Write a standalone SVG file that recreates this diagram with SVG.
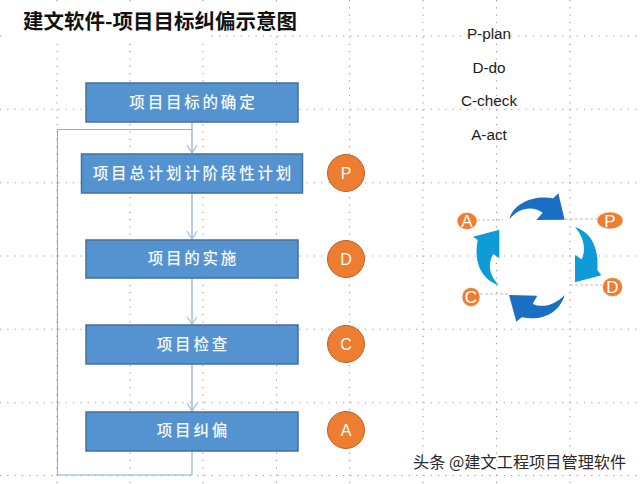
<svg xmlns="http://www.w3.org/2000/svg" width="640" height="484" viewBox="0 0 640 484">
<style>
.g{stroke:#9a9a9a;stroke-width:1.1;stroke-dasharray:1.2 6.1;fill:none}
.b{fill:#5593d0;stroke:#41719c;stroke-width:1.5}
.bt{font-family:"Noto Sans CJK SC","Noto Sans CJK JP",sans-serif;font-size:15.500px;font-weight:500;fill:#f4f8fc;text-anchor:middle;letter-spacing:2.800px}
.c{fill:#ed7d31;stroke:#b8642c;stroke-width:1}
.ct{font-family:"Liberation Sans",Arial,sans-serif;font-size:16px;fill:#fff;text-anchor:middle}
.l{font-family:"Liberation Sans",Arial,sans-serif;font-size:15.300px;fill:#1c1c1c;text-anchor:middle}
.w{stroke:#86aedb;stroke-width:1.1;fill:none}
.m{stroke:#a9c0dc;stroke-width:1.6;fill:none}
.h{stroke:#9dbfe0;stroke-width:1.2;fill:none}
.d{fill:#1a6fc4}.e{fill:#0f9bd7}
.oc{fill:#ed7d31;stroke:#fff;stroke-width:.5}
.ot{font-family:"Liberation Sans",Arial,sans-serif;font-size:17px;fill:#fff;text-anchor:middle}
.da{stroke:#bdbdbd;stroke-width:1;stroke-dasharray:3 2;fill:none}
</style>
<rect width="640" height="484" fill="#fff"/>
<g id="grid">
<path class="g" d="M0 36H640M0 109.300H640M0 182.700H640M0 256H640M0 329.300H640M0 402.700H640M0 475.500H640"/>
<path class="g" d="M57 0V484M130 0V484M203 0V484M276.500 0V484M349.500 0V484M423 0V484M496.500 0V484M570 0V484"/>
<rect x="6" y="5" width="201" height="38" fill="#fff"/>
<rect x="207" y="5" width="92" height="27" fill="#fff"/>
</g>
<text id="title" x="23" y="29" font-family="'Noto Sans CJK SC','Noto Sans CJK JP',sans-serif" font-size="20.500px" font-weight="700" fill="#111">建文软件-项目目标纠偏示意图</text>
<g id="connectors">
<path class="m" d="M192 122V154M192 193V240M192 278V325M192 364V412"/>
<path class="w" d="M192 451V475H57.500V129.500H192"/>
<path class="h" d="M187 145L192 153L197 145M187 231L192 239L197 231M187 317L192 324L197 317M187 403L192 411L197 403"/>
</g>
<g id="n1"><rect class="b" x="86" y="83" width="212" height="39"/><text class="bt" x="193.400" y="108">项目目标的确定</text></g>
<g id="n2"><rect class="b" x="81.500" y="154" width="221" height="39"/><text class="bt" x="193.400" y="179">项目总计划计阶段性计划</text></g>
<g id="n3"><rect class="b" x="86" y="240" width="212" height="38"/><text class="bt" x="193.400" y="264">项目的实施</text></g>
<g id="n4"><rect class="b" x="86" y="325" width="212" height="39"/><text class="bt" x="193.400" y="350">项目检查</text></g>
<g id="n5"><rect class="b" x="86" y="412" width="212" height="39"/><text class="bt" x="193.400" y="436">项目纠偏</text></g>
<g id="p"><circle class="c" cx="346" cy="173" r="18.500"/><text class="ct" x="346" y="179">P</text></g>
<g id="d"><circle class="c" cx="346" cy="259" r="18.500"/><text class="ct" x="346" y="265">D</text></g>
<g id="cc"><circle class="c" cx="346" cy="344" r="18.500"/><text class="ct" x="346" y="350">C</text></g>
<g id="a"><circle class="c" cx="346" cy="430" r="18.500"/><text class="ct" x="346" y="436">A</text></g>
<g id="legend">
<text class="l" x="489" y="38.500">P-plan</text>
<text class="l" x="489" y="72.500">D-do</text>
<text class="l" x="489" y="106">C-check</text>
<text class="l" x="489" y="140">A-act</text>
</g>
<g id="cycle">
<path class="da" d="M477 220H503M565 219H597M570 285H602M480 294H508"/>
<g transform="translate(440 180) scale(.3333)">
<path class="d" d="M208 118C220 70 280 45 340 55L355 40L374 119L289 120L308 98C275 75 235 85 208 118Z"/>
<path class="e" d="M405 141C450 155 478 200 472 270L484 286L405 307L405 225L425 238C440 205 430 170 405 141Z"/>
<path class="d" d="M374 345C360 395 310 425 245 412L229 425L207 345L292 347L278 372C310 385 345 375 374 345Z"/>
<path class="e" d="M178 316C125 300 100 250 113 180L99 170L178 149L178 235L160 222C140 255 150 290 178 316Z"/>
</g>
<g id="oa"><ellipse class="oc" cx="467" cy="221" rx="10" ry="8.500"/><text class="ot" x="467" y="227">A</text></g>
<g id="op"><ellipse class="oc" cx="610" cy="220.500" rx="13" ry="8.500"/><text class="ot" x="610" y="226.500">P</text></g>
<g id="od"><ellipse class="oc" cx="612.500" cy="287" rx="10" ry="9.500"/><text class="ot" x="612.500" y="293">D</text></g>
<g id="oc"><ellipse class="oc" cx="471" cy="297" rx="9" ry="9.500"/><text class="ot" x="471" y="303">C</text></g>
</g>
<text id="watermark" x="413" y="468" font-family="'Noto Sans CJK SC','Noto Sans CJK JP',sans-serif" font-size="16.200px" fill="#2a2a2a" stroke="#fff" stroke-width="2.500" paint-order="stroke">头条 @建文工程项目管理软件</text>
</svg>
